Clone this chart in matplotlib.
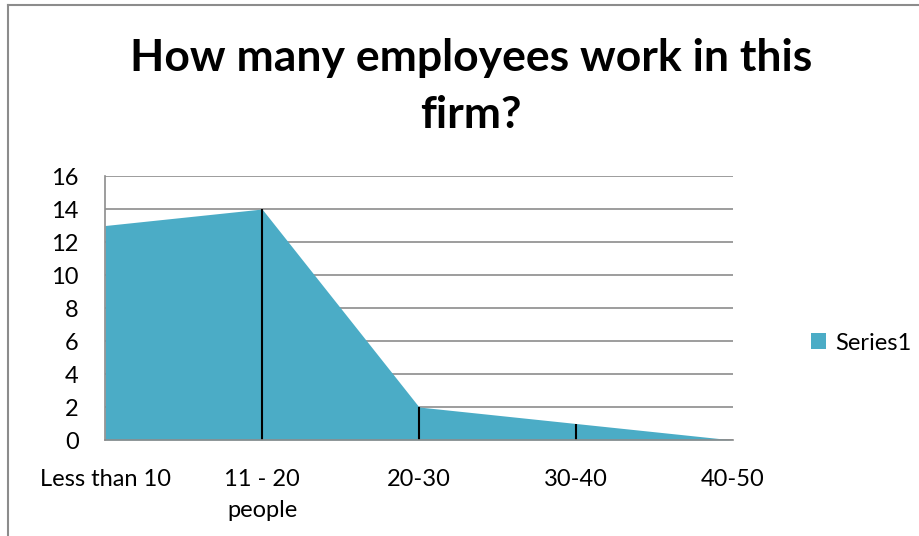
import matplotlib.pyplot as plt
from matplotlib.patches import Patch
from matplotlib.lines import Line2D

categories = ["Less than 10", "11 - 20\npeople", "20-30", "30-40", "40-50"]
values = [13, 14, 2, 1, 0]
series_name = "Series1"

plt.rcParams['font.family'] = ['Lato', 'DejaVu Sans']

fill_color = "#4BACC6"
grid_color = "#8C8C8C"

fig = plt.figure(figsize=(9.19, 5.36), dpi=100)
ax = fig.add_axes([0.1143, 0.1791, 0.6833, 0.4925])

x = list(range(len(values)))
ax.fill_between(x, values, 0, color=fill_color, linewidth=0, zorder=2)
# drop lines from each point down to the axis
ax.vlines(x[1:], 0, values[1:], color="black", linewidth=1.5, zorder=3)

ax.set_xlim(0, len(values) - 1)
ax.set_ylim(0, 16)
ax.set_yticks(range(0, 17, 2))
ax.set_xticks(x)
ax.set_xticklabels(categories, fontsize=17, linespacing=1.55)
ax.tick_params(axis='y', labelsize=17, length=0, pad=19)
ax.tick_params(axis='x', length=0, pad=21)
ax.grid(axis='y', color=grid_color, linewidth=1.2, zorder=1)
ax.set_axisbelow(True)

for s in ['top', 'right']:
    ax.spines[s].set_visible(False)
for s in ['left', 'bottom']:
    ax.spines[s].set_color(grid_color)
    ax.spines[s].set_linewidth(1.2)
    ax.spines[s].set_zorder(4)

fig.text(0.5125, 0.838, "How many employees work in this\nfirm?", ha='center', va='center',
         fontsize=32, fontweight='bold', linespacing=1.52)

fig.legend(handles=[Patch(facecolor=fill_color, label=series_name)], loc='center left',
           bbox_to_anchor=(0.859, 0.36), frameon=False, fontsize=17,
           handlelength=0.65, handleheight=0.65, handletextpad=0.4)

# chart frame
fig.add_artist(Line2D([8 / 919, 8 / 919], [0, 1 - 5 / 536], transform=fig.transFigure,
                      color="#8C8C8C", linewidth=1.5))
fig.add_artist(Line2D([8 / 919, 1], [1 - 5 / 536, 1 - 5 / 536], transform=fig.transFigure,
                      color="#8C8C8C", linewidth=1.5))

fig.savefig("out.png", dpi=100)
